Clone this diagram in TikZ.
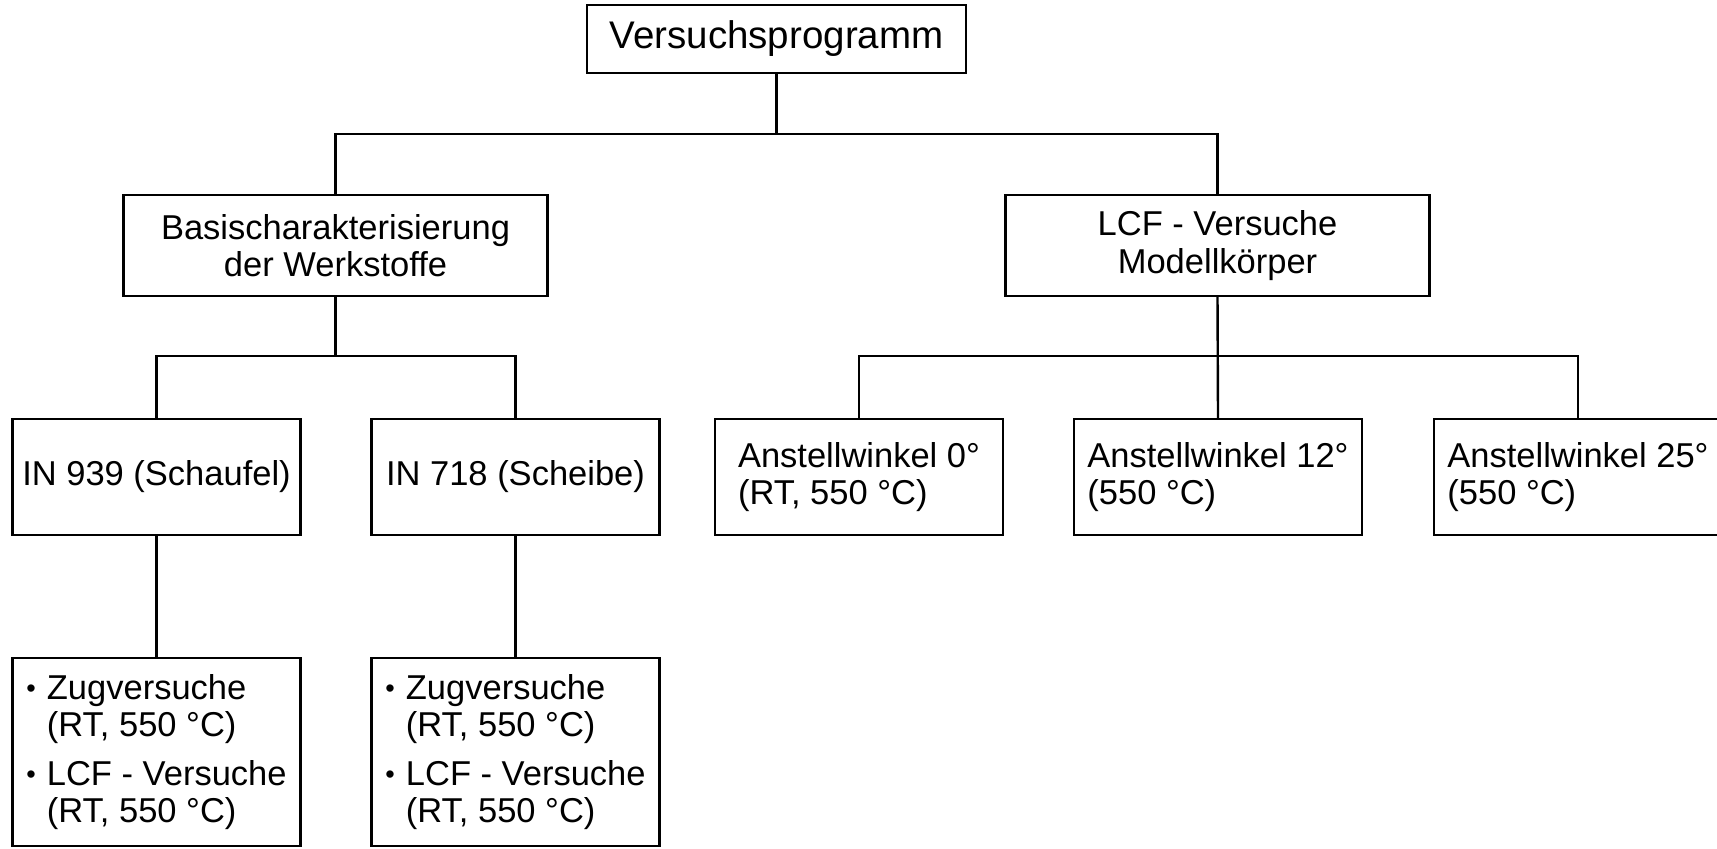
\documentclass[tikz,border=0pt]{standalone}
\usepackage{fontspec}
\setmainfont{Liberation Sans}
\newcommand{\pkt}{\raisebox{0.05em}{\fontsize{13.5}{13.5}\selectfont\textbullet}\hspace{0.32em}}
\newcommand{\ein}{\phantom{\pkt}}
\tikzset{
  kasten/.style={draw,line width=1.2pt,inner sep=0pt,align=center,
    minimum width=144pt,minimum height=58pt,font=\fontsize{17.25}{18.8}\selectfont},
  kopf/.style={kasten,minimum width=189.5pt,minimum height=34pt,font=\fontsize{19.25}{21}\selectfont},
  gruppe/.style={kasten,minimum width=212pt,minimum height=50.5pt},
  winkel/.style={kasten,align=left},
  liste/.style={kasten,align=left,minimum height=94pt},
  ast/.style={line width=1.2pt}
}
\begin{document}
\begin{tikzpicture}[x=0.5pt,y=-0.5pt]
  \useasboundingbox (0,0) rectangle (1717,849);
  \node[kopf] (prog) at (776.5,39) {Versuchsprogramm};
  \node[gruppe] (basis) at (335.5,245.5) {Basischarakterisierung\\der Werkstoffe};
  \node[gruppe] (lcf) at (1217.5,245.5) {LCF - Versuche\\Modellkörper};
  \node[kasten] (in939) at (156.5,477) {IN 939 (Schaufel)};
  \node[kasten] (in718) at (515.5,477) {IN 718 (Scheibe)};
  \node[winkel] (a0) at (859,477) {Anstellwinkel 0°\\(RT, 550 °C)};
  \node[winkel] (a12) at (1218,477) {Anstellwinkel 12°\\(550 °C)};
  \node[winkel] (a25) at (1578,477) {Anstellwinkel 25°\\(550 °C)};
  \node[liste] (pr939) at (156.5,752) {\pkt Zugversuche\\\ein(RT, 550 °C)\\[5.5pt]\pkt LCF - Versuche\\\ein(RT, 550 °C)};
  \node[liste] (pr718) at (515.5,752) {\pkt Zugversuche\\\ein(RT, 550 °C)\\[5.5pt]\pkt LCF - Versuche\\\ein(RT, 550 °C)};
  \coordinate (j1) at (776.5,134);
  \coordinate (j2) at (335.5,356);
  \coordinate (j3) at (1217.5,356);
  \draw[ast] (prog.south) -- (j1);
  \draw[ast] (basis.north) |- (j1) -| (lcf.north);
  \draw[ast] (basis.south) -- (j2);
  \draw[ast] (in939.north) |- (j2) -| (in718.north);
  \draw[ast] (lcf.south) -- (a12.north);
  \draw[ast] (a0.north) |- (j3) -| (a25.north);
  \draw[ast] (in939.south) -- (pr939.north);
  \draw[ast] (in718.south) -- (pr718.north);
\end{tikzpicture}
\end{document}
